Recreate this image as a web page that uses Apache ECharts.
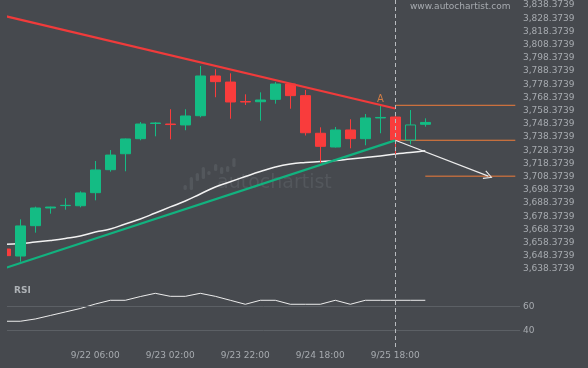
<!DOCTYPE html>
<html><head><meta charset="utf-8">
<script src="https://cdn.jsdelivr.net/npm/echarts@6/dist/echarts.min.js"></script>
<style>html,body{margin:0;padding:0;background:#46494e}#c{width:588px;height:368px}</style>
</head><body><div id="c"></div>
<script>
// ---- data ----
const tickIndex = [6, 11, 16, 21, 26];
const tickLabels = ['9/22 06:00', '9/23 02:00', '9/23 22:00', '9/24 18:00', '9/25 18:00'];
const openV  = [3653.5,3648.2,3671.2,3684.6,3686.4,3686.3,3696.2,3713.6,3725.7,3737.1,3748.6,3748.2,3747.5,3754.5,3784.6,3780.0,3765.2,3765.1,3766.9,3778.5,3769.7,3741.2,3730.8,3743.7,3737.1,3752.8,3753.5,3736.1,3748.0];
const closeV = [3648.5,3671.0,3684.6,3685.3,3686.6,3696.0,3713.4,3724.7,3736.9,3748.2,3749.0,3747.8,3754.3,3784.6,3780.3,3764.9,3764.9,3766.4,3778.5,3769.7,3741.6,3731.3,3743.7,3737.1,3752.8,3753.2,3736.1,3747.5,3749.4];
const lowV   = [3648.0,3643.9,3665.9,3680.3,3683.3,3685.1,3690.4,3712.1,3712.4,3735.9,3738.9,3736.6,3743.5,3753.3,3768.5,3752.2,3762.6,3750.7,3763.6,3759.8,3739.5,3718.5,3730.4,3729.8,3732.1,3741.2,3722.5,3732.8,3746.2];
const highV  = [3654.0,3676.0,3685.6,3685.6,3691.9,3697.2,3720.2,3728.5,3737.2,3749.7,3749.7,3759.4,3759.4,3792.2,3789.7,3786.6,3770.7,3772.2,3780.0,3779.1,3774.0,3745.7,3746.0,3751.8,3755.8,3761.9,3756.6,3758.8,3752.5];
const maV    = [3657.2,3657.7,3658.8,3660.0,3661.5,3663.4,3666.4,3668.7,3672.5,3676.3,3680.8,3685.4,3689.9,3695.2,3700.5,3704.5,3708.4,3712.2,3715.6,3717.9,3719.1,3719.8,3720.6,3721.7,3722.8,3724.0,3725.5,3726.6,3728.0];
const rsiV   = [47.5,47.5,49.4,52.3,55.2,58.1,61.8,64.9,64.9,68.0,70.7,68.2,68.2,70.7,68.2,64.9,61.6,64.9,64.9,61.6,61.6,61.6,64.9,61.6,64.9,64.9,64.9,64.9,64.9];
const hollowIndex = 27;
const resistance = [[0, 3829.9], [26, 3760.0]];
const support = [[0, 3639.1], [26, 3735.8]];
const levelLines = [[26, 34, 3762.4], [26, 34, 3735.9], [28, 34, 3708.7]];
const projection = [[26, 3735.9], [32.2, 3708.7]];
const signalIndex = 25;
const signalText = 'A';
const nowIndex = 26;
const rsiLevels = [60, 40];
const priceBase = 3638.3739;
const priceStep = 10;
const priceMax = 3842.16;
const xMin = 0.1133, xMax = 34.313;

// ---- styles ----
const BG = '#46494e', GREEN = '#14bc84', RED = '#f93c3c', TXT = '#a7abb0', FONT = 'DejaVu Sans';

function fmtPrice(v) {
  const r = (v - priceBase) / priceStep;
  const k = Math.round(r);
  if (Math.abs(r - k) > 0.05) return '';
  const s = (priceBase + k * priceStep).toFixed(4);
  const p = s.split('.');
  return p[0].replace(/\B(?=(\d{3})+(?!\d))/g, ',') + '.' + p[1];
}

const candleData = openV.map((o, i) => {
  const item = { value: [i, o, closeV[i], lowV[i], highV[i]] };
  if (i === hollowIndex) item.itemStyle = { color: BG, borderColor: GREEN };
  return item;
});

const logoBars = [[183.5,185,3.3,5],[189.7,177,3.3,13],[195.7,173,3.3,8],[201.7,167,3.3,12],[207.3,171,3.3,4],[214,164,3.3,7],[220,167,3.3,7],[226,166,3.3,6],[232.3,158,3.3,9]];

const chart = echarts.init(document.getElementById('c'), null, { renderer: 'canvas' });
const baseGraphics = [
  { type: 'text', left: 410, top: 2, style: { text: 'www.autochartist.com', fill: TXT, font: '9px "DejaVu Sans"' }, silent: true },
  { type: 'text', left: 14, top: 286, style: { text: 'RSI', fill: '#adb1b5', font: 'bold 9px "DejaVu Sans"' }, silent: true, z: 120 },
  { type: 'text', left: 217, top: 174, style: { text: 'autochartist', fill: '#53575c', font: '19px "DejaVu Sans"' }, silent: true, z: -1 },
  // plot-area left margin (covers the part of the first candle outside the plot)
  { type: 'rect', shape: { x: 0, y: 0, width: 7, height: 368 }, style: { fill: BG }, silent: true, z: 110 }
].concat(logoBars.map(b => ({ type: 'rect', shape: { x: b[0], y: b[1], width: b[2], height: b[3], r: 1.5 }, style: { fill: '#53575c' }, silent: true, z: -1 })));

const series = [
  {
    type: 'candlestick', xAxisIndex: 0, yAxisIndex: 0, barWidth: 11,
    dimensions: ['idx', 'open', 'close', 'lowest', 'highest'],
    encode: { x: 0, y: [1, 2, 3, 4] },
    itemStyle: { color: GREEN, color0: RED, borderColor: GREEN, borderColor0: RED, borderWidth: 1 },
    data: candleData, z: 3
  },
  { type: 'line', xAxisIndex: 0, yAxisIndex: 0, data: maV.map((v, i) => [i, v]), smooth: true, showSymbol: false, lineStyle: { color: '#f2f2f2', width: 1.5 }, z: 2 },
  { type: 'line', xAxisIndex: 0, yAxisIndex: 0, data: resistance, showSymbol: false, lineStyle: { color: '#f03b3b', width: 2.2 }, z: 4 },
  { type: 'line', xAxisIndex: 0, yAxisIndex: 0, data: support, showSymbol: false, lineStyle: { color: '#12b27f', width: 2.2 }, z: 4 },
  {
    type: 'line', xAxisIndex: 0, yAxisIndex: 0, data: [], z: 4,
    markLine: {
      silent: true, symbol: ['none', 'path://M0,10 L5,0 L10,10 L8.8,10.6 L5,2.4 L1.2,10.6 Z'], symbolSize: [9, 9],
      lineStyle: { color: '#ececec', width: 1.2, type: 'solid' }, label: { show: false },
      data: [[{ coord: projection[0] }, { coord: projection[1] }]]
    }
  },
  {
    type: 'scatter', xAxisIndex: 0, yAxisIndex: 0, symbolSize: 1, itemStyle: { color: 'transparent' },
    data: [[signalIndex, highV[signalIndex]]],
    label: { show: true, formatter: signalText, position: 'top', distance: 1, color: '#f08a45', fontSize: 10, fontFamily: FONT }
  },
  {
    type: 'line', xAxisIndex: 1, yAxisIndex: 1, data: rsiV.map((v, i) => [i, v]), showSymbol: false,
    lineStyle: { color: '#ececec', width: 1 },
    markLine: {
      silent: true, symbol: 'none', lineStyle: { color: '#5c6065', width: 1, type: 'solid' },
      label: { position: 'end', formatter: '{c}', color: TXT, fontSize: 9, fontFamily: FONT, distance: 3 },
      data: rsiLevels.map(v => ({ yAxis: v }))
    }
  }
].concat(levelLines.map(l => ({
  type: 'line', xAxisIndex: 0, yAxisIndex: 0, data: [[l[0], l[2]], [l[1], l[2]]], showSymbol: false,
  lineStyle: { color: '#f07c3a', width: 1 }, z: 2
})));

chart.setOption({
  backgroundColor: BG,
  animation: false,
  grid: [
    { left: 7, right: 68, top: 0, height: 269 },
    { left: 7, right: 68, top: 282.1, height: 60.25 }
  ],
  xAxis: [
    { type: 'value', gridIndex: 0, min: xMin, max: xMax, show: false },
    {
      type: 'value', gridIndex: 1, min: xMin, max: xMax,
      axisLine: { show: false }, axisTick: { show: false }, splitLine: { show: false },
      axisLabel: {
        customValues: tickIndex,
        formatter: v => { const k = tickIndex.indexOf(Math.round(v)); return k >= 0 ? tickLabels[k] : ''; },
        color: TXT, fontSize: 9, fontFamily: FONT, margin: 9
      }
    }
  ],
  yAxis: [
    {
      type: 'value', gridIndex: 0, position: 'right', min: priceBase, max: priceMax, interval: priceStep,
      axisLine: { show: false }, axisTick: { show: false }, splitLine: { show: false },
      axisLabel: { formatter: fmtPrice, color: TXT, fontSize: 9, fontFamily: FONT, margin: 3, showMaxLabel: false }
    },
    { type: 'value', gridIndex: 1, min: 30, max: 80, show: false }
  ],
  graphic: baseGraphics,
  series: series
});

const px = Math.round(chart.convertToPixel({ xAxisIndex: 0 }, nowIndex)) + 0.5;
chart.setOption({
  graphic: baseGraphics.concat([{
    type: 'line', shape: { x1: px, y1: 0, x2: px, y2: 350 },
    style: { stroke: '#b9bcc0', lineWidth: 1, lineDash: [4, 3] }, silent: true, z: 100
  }])
});
</script>
</body></html>
